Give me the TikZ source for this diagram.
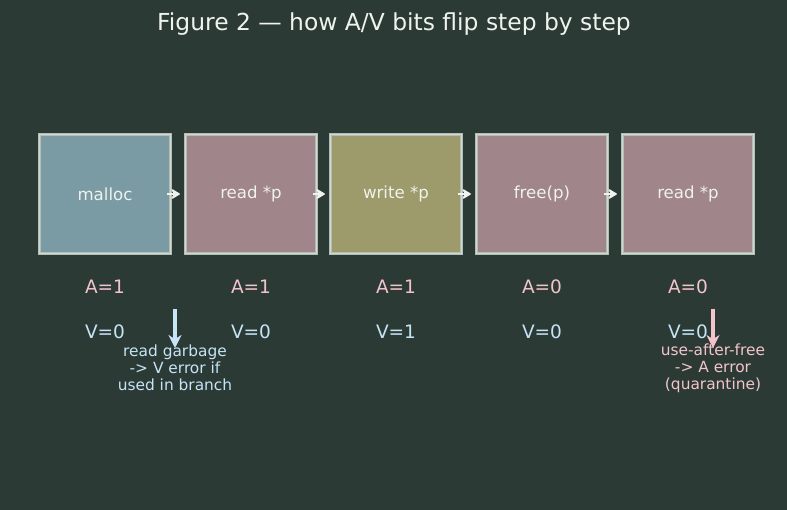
\documentclass[tikz,border=0pt]{standalone}
\usepackage{fontspec}
\setmainfont{DejaVu Sans}
\usetikzlibrary{arrows.meta}
\definecolor{bg}{HTML}{2B3A35}
\definecolor{bord}{HTML}{B4BCB6}
\definecolor{bordin}{HTML}{D0D8D2}
\definecolor{fblue}{HTML}{7B9BA4}
\definecolor{fmauve}{HTML}{A0858A}
\definecolor{folive}{HTML}{9D9B6B}
\definecolor{txt}{HTML}{F0F2EE}
\definecolor{pinkt}{HTML}{F4C4CC}
\definecolor{bluet}{HTML}{C6E4F6}
\tikzset{
  x=1pt,y=-1pt,
  stepbox/.style={draw=bord,line width=3.4pt,minimum width=131pt,minimum height=119pt,inner sep=0pt,text=txt,font=\fontsize{16.6}{20}\selectfont,
    postaction={draw=bordin,line width=1pt}},
  abit/.style={text=pinkt,font=\fontsize{18.5}{22}\selectfont},
  vbit/.style={text=bluet,font=\fontsize{18.5}{22}\selectfont},
  flow/.style={draw=txt,line width=1.8pt,-{Stealth[length=11pt,width=13pt,inset=4.5pt,round]}},
  note/.style={font=\fontsize{15.4}{17}\selectfont,align=center},
  noteArrow/.style={line width=3.2pt,-{Stealth[length=13pt,width=13pt]}}
}
\begin{document}
\begin{tikzpicture}
\fill[bg] (0,0) rectangle (787,510);
\useasboundingbox (0,0) rectangle (787,510);
\node[text=txt,font=\fontsize{23.4}{26}\selectfont] (title) at (394,24) {Figure 2 — how A/V bits flip step by step};
\node[stepbox,fill=fblue] (b1) at (105,194) {malloc};
\node[stepbox,fill=fmauve] (b2) at (251,194) {read *p};
\node[stepbox,fill=folive] (b3) at (396,194) {write *p};
\node[stepbox,fill=fmauve] (b4) at (542,194) {free(p)};
\node[stepbox,fill=fmauve] (b5) at (688,194) {read *p};
\draw[flow] ([xshift=-5pt]b1.east) -- ([xshift=-4pt]b2.west);
\draw[flow] ([xshift=-5pt]b2.east) -- ([xshift=-4pt]b3.west);
\draw[flow] ([xshift=-5pt]b3.east) -- ([xshift=-4pt]b4.west);
\draw[flow] ([xshift=-5pt]b4.east) -- ([xshift=-4pt]b5.west);
\node[abit] (a1) at (105,287) {A=1};
\node[abit] (a2) at (251,287) {A=1};
\node[abit] (a3) at (396,287) {A=1};
\node[abit] (a4) at (542,287) {A=0};
\node[abit] (a5) at (688,287) {A=0};
\node[vbit] (v1) at (105,332) {V=0};
\node[vbit] (v2) at (251,332) {V=0};
\node[vbit] (v3) at (396,332) {V=1};
\node[vbit] (v4) at (542,332) {V=0};
\node[vbit] (v5) at (688,332) {V=0};
\coordinate (s1) at (175,309);
\coordinate (s2) at (713,309);
\node[note,text=bluet] (n1) at (175,368) {read garbage\\-> V error if\\used in branch};
\node[note,text=pinkt] (n2) at (713,368) {use-after-free\\-> A error\\(quarantine)};
\draw[noteArrow,draw=bluet] (s1) -- (175,348);
\draw[noteArrow,draw=pinkt] (s2) -- (713,348);
\end{tikzpicture}
\end{document}
